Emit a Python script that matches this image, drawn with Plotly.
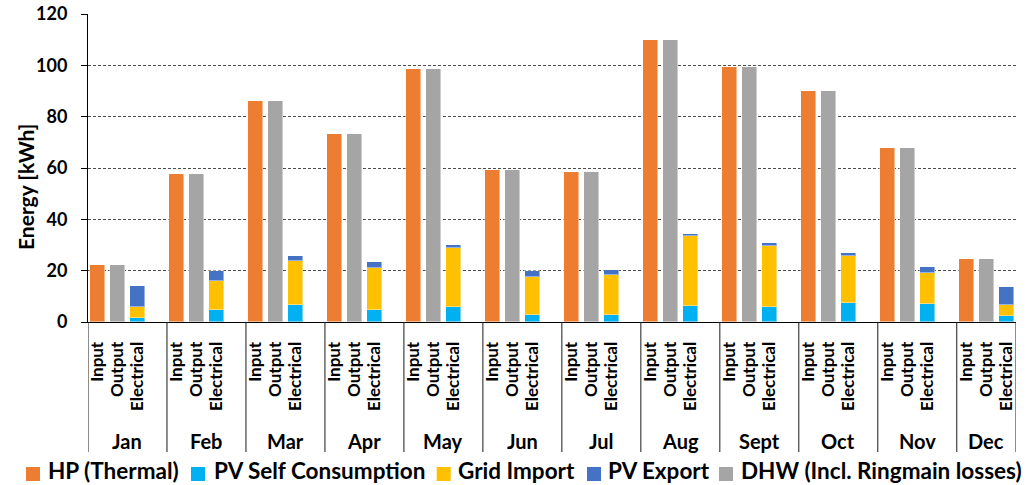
import plotly.graph_objects as go

months = ["Jan", "Feb", "Mar", "Apr", "May", "Jun", "Jul", "Aug", "Sept", "Oct", "Nov", "Dec"]
sub_labels = ["Input", "Output", "Electrical"]

hp_thermal = [22.1, 57.7, 86.0, 73.2, 98.6, 59.1, 58.6, 109.9, 99.2, 90.0, 67.9, 24.7]
dhw = [22.1, 57.7, 86.0, 73.2, 98.6, 59.1, 58.6, 109.9, 99.2, 90.0, 67.9, 24.7]
pv_self = [1.7, 4.7, 6.5, 4.5, 5.8, 2.8, 2.6, 6.4, 5.7, 7.3, 7.1, 2.5]
grid_import = [4.3, 11.2, 17.1, 16.4, 22.9, 14.9, 15.6, 27.2, 24.0, 18.5, 11.9, 4.2]
pv_export = [8.2, 4.1, 2.0, 2.6, 1.3, 2.3, 2.2, 0.7, 1.2, 1.2, 2.3, 6.9]

names = ["HP (Thermal)", "PV Self Consumption", "Grid Import", "PV Export", "DHW (Incl. Ringmain losses)"]
colors = ["#ED7D31", "#00B0F0", "#FFC000", "#4472C4", "#A5A5A5"]

FONT = "Lato"
W, H = 1027, 485
ML, MR, MT, MB = 88, 11, 14, 163
PW, PH = W - ML - MR, H - MT - MB

def px(xp):
    return (xp - ML) / PW

def py(yp):
    return (H - MB - yp) / PH

# category slots: 4 per month (Input, Output, Electrical, gap)
x_in = [4 * i + 0.5 for i in range(len(months))]
x_out = [4 * i + 1.5 for i in range(len(months))]
x_el = [4 * i + 2.5 for i in range(len(months))]
xmax = 4 * len(months) - 1

fig = go.Figure()
bw = 0.76
line = dict(color="rgba(255,255,255,0.45)", width=1)
fig.add_trace(go.Bar(x=x_in, y=hp_thermal, name=names[0], marker=dict(color=colors[0], line=line), width=bw))
fig.add_trace(go.Bar(x=x_el, y=pv_self, name=names[1], marker=dict(color=colors[1], line=line), width=bw))
fig.add_trace(go.Bar(x=x_el, y=grid_import, name=names[2], marker=dict(color=colors[2], line=line), width=bw))
fig.add_trace(go.Bar(x=x_el, y=pv_export, name=names[3], marker=dict(color=colors[3], line=line), width=bw))
fig.add_trace(go.Bar(x=x_out, y=dhw, name=names[4], marker=dict(color=colors[4], line=line), width=bw))

tickvals, ticktext = [], []
for i in range(len(months)):
    tickvals += [x_in[i], x_out[i], x_el[i]]
    ticktext += sub_labels

shapes = []
bounds = [4 * i for i in range(len(months))] + [xmax]
for b in bounds:
    shapes.append(dict(type="line", xref="x", yref="paper", x0=b, x1=b, y0=0, y1=py(452),
                       line=dict(color="#1a1a1a", width=1)))

annotations = []
for i, m in enumerate(months):
    annotations.append(dict(text=m, xref="x", yref="paper", x=(bounds[i] + bounds[i + 1]) / 2, y=py(441),
                            showarrow=False, xanchor="center", yanchor="middle",
                            font=dict(family=FONT, size=20, color="black", weight="bold")))

annotations.append(dict(text="Energy [kWh]", xref="paper", yref="paper", x=px(25), y=py(187),
                        textangle=-90, showarrow=False, xanchor="center", yanchor="middle",
                        font=dict(family=FONT, size=21, color="black", weight="bold")))

# legend (manual, to reproduce spacing)
leg = [(26, 46.7), (191, 213), (436.7, 457), (587, 607), (719, 740)]
for (sx, tx), n, c in zip(leg, names, colors):
    shapes.append(dict(type="rect", xref="paper", yref="paper", x0=px(sx), x1=px(sx + 14),
                       y0=py(481), y1=py(467), fillcolor=c, line=dict(width=0)))
    annotations.append(dict(text=n, xref="paper", yref="paper", x=px(tx), y=py(485),
                            showarrow=False, xanchor="left", yanchor="bottom", borderpad=0,
                            font=dict(family=FONT, size=22.5, color="black", weight="bold")))

fig.update_layout(
    width=W, height=H, autosize=False,
    margin=dict(l=ML, r=MR, t=MT, b=MB, autoexpand=False),
    barmode="stack", bargap=0,
    showlegend=False,
    paper_bgcolor="white", plot_bgcolor="white",
    shapes=shapes, annotations=annotations,
    xaxis=dict(range=[0, xmax], tickmode="array", tickvals=tickvals, ticktext=ticktext,
               tickangle=-90, showgrid=False, zeroline=False, showline=True, automargin=False,
               linecolor="black", linewidth=1, ticks="", ticklabelstandoff=12,
               tickfont=dict(family=FONT, size=17, color="black", weight="bold")),
    yaxis=dict(range=[0, 120], dtick=20, tick0=0, showgrid=True, gridcolor="#4d4d4d",
               griddash="3px,2px", gridwidth=1, zeroline=False, showline=True, automargin=False,
               linecolor="black", linewidth=1, ticks="outside", ticklen=6, tickcolor="black",
               ticklabelstandoff=10,
               tickfont=dict(family=FONT, size=18, color="black", weight="bold")),
)

fig.write_html("out.html")
